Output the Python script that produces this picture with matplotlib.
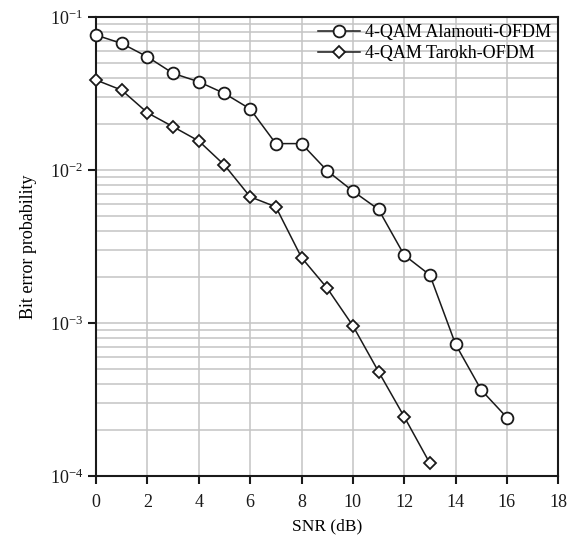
import matplotlib
matplotlib.use("Agg")
import matplotlib.pyplot as plt
from matplotlib.ticker import LogLocator, NullFormatter

# Data
snr_alamouti = [0, 1, 2, 3, 4, 5, 6, 7, 8, 9, 10, 11, 12, 13, 14, 15, 16]
ber_alamouti = [0.0763, 0.0673, 0.0550, 0.0429, 0.0378, 0.0317, 0.0251, 0.0149,
                0.0149, 0.0099, 0.00729, 0.00553, 0.00278, 0.00206, 0.000726,
                0.000365, 0.000241]
snr_tarokh = [0, 1, 2, 3, 4, 5, 6, 7, 8, 9, 10, 11, 12, 13]
ber_tarokh = [0.0388, 0.0333, 0.0237, 0.0192, 0.0155, 0.01078, 0.00669, 0.00575,
              0.00268, 0.00169, 0.00096, 0.000481, 0.000244, 0.000121]
labels = ["4-QAM Alamouti-OFDM", "4-QAM Tarokh-OFDM"]
x_ticks = [0, 2, 4, 6, 8, 10, 12, 14, 16, 18]

plt.rcParams["font.family"] = ["Liberation Serif", "DejaVu Serif"]
plt.rcParams["mathtext.fontset"] = "stix"

fig = plt.figure(figsize=(5.72, 5.36), dpi=100)
ax = fig.add_axes([0.168, 0.112, 0.808, 0.856])

ax.plot(snr_alamouti, ber_alamouti, "-o", color="#1a1a1a", lw=1.1, clip_on=False,
        markersize=8.5, markerfacecolor="white", markeredgewidth=1.3, label=labels[0], zorder=3)
ax.plot(snr_tarokh, ber_tarokh, "-D", color="#1a1a1a", lw=1.1, clip_on=False,
        markersize=6.5, markerfacecolor="white", markeredgewidth=1.3, label=labels[1], zorder=3)

ax.set_yscale("log")
ax.set_xlim(0, 18)
ax.set_ylim(1e-4, 1e-1)
ax.set_xticks(x_ticks)
ax.yaxis.set_major_locator(LogLocator(base=10))
ax.yaxis.set_minor_locator(LogLocator(base=10, subs=range(2, 10)))
ax.yaxis.set_minor_formatter(NullFormatter())

ax.grid(True, which="both", color="#c4c4c4", lw=1.1)
ax.set_axisbelow(True)

for s in ax.spines.values():
    s.set_linewidth(1.5)
    s.set_color("#1a1a1a")

ax.tick_params(which="major", direction="out", length=6, width=1.5, labelsize=13, colors="#1a1a1a")
ax.tick_params(axis="x", pad=7)
ax.tick_params(which="minor", length=0)

ax.set_xlabel("SNR (dB)", fontsize=12.5, labelpad=5)
ax.set_ylabel("Bit error probability", fontsize=13, labelpad=9)

leg = ax.legend(loc="upper right", frameon=False, fontsize=13, handlelength=2.3,
                handletextpad=0.3, borderaxespad=0.0, labelspacing=0.2)

fig.savefig("out.png", dpi=100)
